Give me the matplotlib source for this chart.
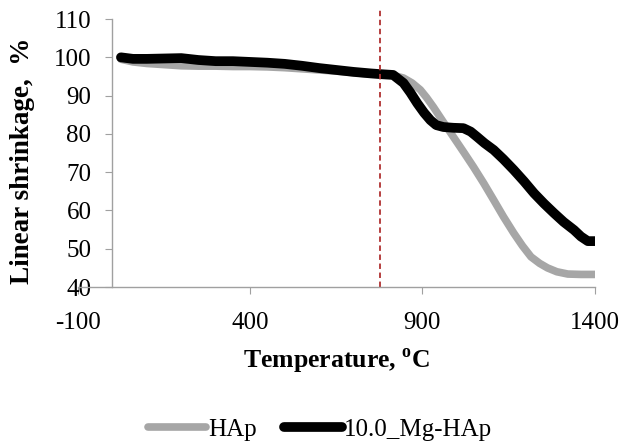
import matplotlib
matplotlib.use('Agg')
import matplotlib.pyplot as plt

plt.rcParams['font.family'] = 'Liberation Serif'
plt.rcParams['mathtext.fontset'] = 'custom'
plt.rcParams['mathtext.rm'] = 'Liberation Serif'
plt.rcParams['mathtext.bf'] = 'Liberation Serif:bold'
plt.rcParams['axes.unicode_minus'] = False

# HAp
temp_hap = [25, 60, 100, 150, 200, 250, 300, 350, 400, 450, 500, 550, 600, 650, 700, 750, 780,
            815, 845, 870, 894, 912, 932, 960, 990, 1020, 1048, 1078, 1107, 1135, 1165, 1190,
            1215, 1240, 1263, 1290, 1322, 1360, 1400]
shrink_hap = [99.5, 98.8, 98.4, 98.1, 97.8, 97.7, 97.7, 97.6, 97.6, 97.5, 97.3, 97.0, 96.7, 96.4,
              96.0, 95.6, 95.5, 95.3, 94.6, 93.3, 91.5, 89.5, 87.0, 83.2, 79.2, 75.2, 71.4, 67.1,
              62.7, 58.4, 54.1, 50.8, 47.9, 46.2, 45.0, 44.0, 43.4, 43.3, 43.3]

# 10.0_Mg-HAp
temp_mg = [25, 60, 100, 150, 200, 250, 300, 350, 400, 450, 500, 550, 600, 650, 700, 750, 780,
           815, 845, 865, 885, 905, 923, 940, 961, 990, 1019, 1040, 1059, 1080, 1107, 1135, 1165,
           1195, 1224, 1253, 1282, 1310, 1340, 1360, 1380, 1400]
shrink_mg = [100.0, 99.6, 99.6, 99.7, 99.8, 99.3, 99.0, 99.0, 98.8, 98.6, 98.3, 97.8, 97.2, 96.7,
             96.2, 95.8, 95.6, 95.4, 93.3, 90.8, 88.0, 85.5, 83.6, 82.3, 81.8, 81.6, 81.5, 80.6,
             79.2, 77.6, 75.8, 73.4, 70.6, 67.6, 64.5, 61.8, 59.3, 57.0, 54.9, 53.2, 52.0, 52.0]

marker_temp = 778
x_ticks = [-100, 400, 900, 1400]
y_ticks = [40, 50, 60, 70, 80, 90, 100, 110]

fig = plt.figure(figsize=(6.28, 4.43), dpi=100)
ax = fig.add_axes([0.124, 0.352, 0.823, 0.605])

ax.plot(temp_hap, shrink_hap, color='#a6a6a6', lw=5.5, solid_capstyle='round', label='HAp')
ax.plot(temp_mg, shrink_mg, color='black', lw=7, solid_capstyle='round', label='10.0_Mg-HAp')
ax.plot([marker_temp, marker_temp], [40, 113], color='#b03030', lw=1.3, ls=(0, (3, 2)),
        clip_on=False)

ax.set_xlim(-100, 1400)
ax.set_ylim(40, 110)
ax.set_xticks(x_ticks)
ax.set_yticks(y_ticks)

for s in ['top', 'right']:
    ax.spines[s].set_visible(False)
ax.spines['left'].set_position(('data', 0))
for s in ['left', 'bottom']:
    ax.spines[s].set_color('#a0a0a0')
    ax.spines[s].set_linewidth(1)
ax.tick_params(axis='both', colors='#a0a0a0', labelcolor='black', labelsize=18, length=5)
ax.tick_params(axis='x', pad=13)
ax.tick_params(axis='y', pad=10)

ax.set_xlabel('Temperature, $^{\\mathbf{o}}$C', fontsize=18.5, fontweight='bold')
ax.set_ylabel('Linear shrinkage,  %', fontsize=19.5, fontweight='bold')
ax.xaxis.set_label_coords(0.5, -0.225)
ax.yaxis.set_label_coords(-0.082, 0.47)

fig.legend(loc='center', bbox_to_anchor=(0.51, 0.03), ncol=2, frameon=False, fontsize=18,
           handlelength=2.3, handletextpad=0.1, columnspacing=1.1)

fig.savefig('out.png', dpi=100)
